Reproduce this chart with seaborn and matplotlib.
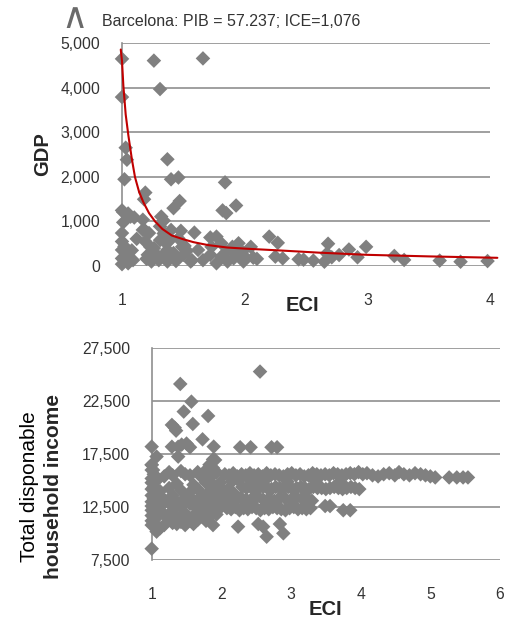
import matplotlib
matplotlib.use("Agg")
import matplotlib.pyplot as plt
import seaborn as sns
import pandas as pd

# ---------------- Top chart: GDP vs ECI ----------------
gdp_eci = [1.00, 1.26, 1.66, 1.31, 1.00, 1.03, 1.04, 1.37, 1.02, 1.40,
           1.46, 1.84, 1.19, 1.18, 1.47, 1.42, 1.93, 1.82, 1.85, 1.00,
           1.01, 1.07, 1.10, 1.17, 1.34, 1.31, 1.01, 1.00, 1.19, 1.22,
           1.39, 1.48, 1.59, 1.72, 1.77, 1.51, 1.36, 1.81, 2.20, 2.27,
           2.68, 2.85, 2.99, 2.05, 1.00, 1.00, 1.00, 1.00, 1.02, 1.05,
           1.05, 1.05, 1.09, 1.06, 1.08, 1.17, 1.19, 1.23, 1.21, 1.24,
           1.32, 1.34, 1.31, 1.38, 1.37, 1.30, 1.37, 1.42, 1.40, 1.46,
           1.49, 1.50, 1.57, 1.62, 1.66, 1.72, 1.73, 1.77, 1.81, 1.86,
           1.90, 1.91, 1.95, 1.98, 1.99, 2.00, 2.07, 2.25, 2.31, 2.44,
           2.48, 2.56, 2.65, 2.67, 2.71, 2.77, 2.92, 3.22, 3.30, 3.59,
           3.76, 3.98, 1.26, 1.42, 1.56, 1.27, 1.12, 1.28, 1.44, 1.53,
           1.85, 1.94, 2.10, 1.20, 1.34]
gdp_values = [4650, 4610, 4660, 3970, 3790, 2650, 2380, 2390, 1940, 1940,
              1980, 1870, 1640, 1490, 1450, 1290, 1350, 1240, 1180, 1240,
              1200, 1100, 1080, 1030, 1010, 880, 970, 730, 780, 730,
              590, 780, 740, 630, 650, 440, 500, 500, 650, 510,
              490, 360, 420, 420, 540, 350, 160, 30, 430, 1170,
              160, 50, 120, 310, 340, 800, 540, 420, 240, 90,
              1100, 720, 570, 540, 350, 120, 90, 200, 800, 610,
              420, 240, 120, 350, 120, 240, 420, 50, 200, 90,
              420, 160, 500, 310, 90, 200, 175, 200, 160, 140,
              130, 110, 85, 270, 185, 235, 185, 215, 125, 110,
              85, 100, 390, 280, 90, 280, 600, 200, 100, 330,
              300, 250, 150, 150, 250]

# fitted trend line
trend_eci = [0.99, 1.00, 1.011, 1.03, 1.052, 1.08, 1.106, 1.14, 1.174, 1.22,
             1.27, 1.33, 1.406, 1.50, 1.583, 1.70, 1.856, 2.00, 2.29, 2.60,
             3.00, 3.50, 4.06]
trend_gdp = [4860, 4600, 4050, 3400, 2925, 2400, 1988, 1650, 1425, 1180,
             990, 820, 675, 590, 525, 460, 405, 380, 338, 290,
             240, 205, 173]

gdp_ticks = [0, 1000, 2000, 3000, 4000, 5000]
gdp_tick_labels = ["0", "1,000", "2,000", "3,000", "4,000", "5,000"]
eci_ticks_top = [1, 2, 3, 4]

# ---------------- Bottom chart: income vs ECI ----------------
inc_single_eci = [2.555, 1.41, 1.57, 1.46, 1.81, 1.59, 1.29, 1.33, 1.35, 1.73,
                  1.00, 1.29, 1.38, 1.43, 1.50, 1.55, 1.89, 2.27, 2.42, 2.72,
                  2.80, 1.07, 1.38, 1.91, 1.00, 1.02, 2.24, 2.53, 2.60, 2.65,
                  2.84, 2.89, 1.00, 1.07, 2.15, 2.25, 2.45, 2.62, 2.95, 3.35,
                  3.70, 2.10, 2.18]
inc_single = [25300, 24130, 22460, 21520, 21110, 20350, 20260, 20000, 19720, 18900,
              18210, 18200, 18200, 18400, 18500, 18150, 18210, 18150, 18150, 18150,
              18150, 17270, 17270, 16950, 16480, 16000, 10650, 10900, 10650, 9700,
              10900, 10020, 8570, 10180, 14900, 15000, 14900, 15000, 14900, 14950,
              14900, 14200, 13800]

band_a_eci = [2.05, 2.11, 2.17, 2.23, 2.29, 2.35, 2.41, 2.47, 2.53, 2.59,
              2.65, 2.71, 2.77, 2.83, 2.89, 2.95, 3.01, 3.07, 3.13, 3.19,
              3.25, 3.31, 3.37, 3.43, 3.49, 3.55, 3.61, 3.67, 3.73, 3.79,
              3.85, 3.91, 3.97, 4.03, 4.09, 4.17, 4.25, 4.33, 4.41, 4.49,
              4.55, 4.62, 4.70, 4.78, 4.86, 4.93, 5.00, 5.07, 5.27, 5.38,
              5.47, 5.54]
band_a_inc = [15600, 15500, 15700, 15400, 15600, 15500, 15700, 15500, 15600, 15400,
              15700, 15500, 15600, 15500, 15400, 15600, 15700, 15500, 15600, 15400,
              15500, 15700, 15600, 15500, 15600, 15500, 15700, 15600, 15500, 15600,
              15700, 15600, 15800, 15600, 15700, 15500, 15400, 15600, 15700, 15500,
              15800, 15600, 15500, 15700, 15600, 15500, 15400, 15300, 15300, 15300,
              15300, 15300]

band_b_eci = [2.30, 2.36, 2.42, 2.48, 2.54, 2.60, 2.66, 2.72, 2.78, 2.84,
              2.90, 2.96, 3.02, 3.08, 3.14, 3.20, 3.26, 3.32, 3.38, 3.44,
              3.50, 3.56, 3.62, 3.68, 3.74, 3.80, 3.86, 3.92, 3.98]
band_b_inc = [14400, 14300, 14400, 14200, 14300, 14400, 14300, 14200, 14400, 14300,
              14300, 14400, 14200, 14300, 14400, 14300, 14200, 14400, 14300, 14300,
              14200, 14300, 14400, 14300, 14200, 14300, 14400, 14300, 14200]

band_c_eci = [2.08, 2.14, 2.20, 2.26, 2.32, 2.38, 2.44, 2.50, 2.56, 2.62,
              2.68, 2.74, 2.80, 2.86, 2.92, 2.98, 3.04, 3.10, 3.16, 3.22,
              3.28, 3.49, 3.56, 3.75, 3.85, 3.22]
band_c_inc = [12400, 12300, 12500, 12200, 12400, 12300, 12500, 12400, 12200, 12400,
              12300, 12500, 12400, 12300, 12200, 12400, 12500, 12300, 12400, 12300,
              12400, 12600, 12600, 12200, 12200, 13170]

band_d_eci = [2.12, 2.20, 2.28, 2.36, 2.44, 2.52, 2.60, 2.68, 2.76, 2.84,
              2.92, 3.00, 3.08, 3.16, 3.24, 3.30]
band_d_inc = [13300, 13100, 13400, 13200, 13300, 13500, 13200, 13300, 13100, 13400,
              13300, 13200, 13400, 13300, 13200, 13100]

left_eci = [1.00, 1.00, 1.00, 1.00, 1.00, 1.00, 1.00, 1.00, 1.00, 1.00, 1.00, 1.00,
            1.03, 1.03, 1.03, 1.03, 1.03,
            1.07, 1.07, 1.07, 1.07,
            1.12, 1.12, 1.12,
            1.18, 1.18, 1.18, 1.18,
            1.25, 1.25, 1.25, 1.25,
            1.30, 1.30, 1.30, 1.30,
            1.36, 1.36, 1.36, 1.36,
            1.42, 1.42, 1.42, 1.42,
            1.48, 1.48, 1.48, 1.48,
            1.55, 1.55, 1.55, 1.55,
            1.60, 1.60, 1.60, 1.60,
            1.66, 1.66, 1.66, 1.66,
            1.72, 1.72, 1.72, 1.72,
            1.78, 1.78, 1.78, 1.78, 1.78,
            1.83, 1.83, 1.83, 1.83, 1.83,
            1.88, 1.88, 1.88, 1.88, 1.88, 1.88,
            1.93, 1.93, 1.93, 1.93,
            1.98, 1.98, 1.98,
            2.05, 2.05, 2.05]
left_inc = [16500, 16000, 15200, 14800, 14200, 13600, 13000, 12600, 12200, 11700, 11200, 10800,
            15600, 14400, 13300, 12000, 11000,
            15000, 13800, 12800, 11500,
            14000, 12500, 10500,
            15400, 13200, 11800, 10800,
            15800, 14300, 12900, 11300,
            15500, 13600, 12200, 11000,
            14700, 13000, 11600, 10900,
            15900, 14100, 12500, 11100,
            15600, 13400, 11900, 10800,
            15500, 13900, 12800, 11200,
            14600, 13100, 11700, 10900,
            15800, 14200, 12300, 11300,
            15300, 13600, 12800, 11600,
            16000, 14800, 13200, 12000, 11200,
            16500, 15200, 14000, 12600, 11600,
            17000, 16200, 14600, 13400, 12000, 10800,
            15800, 14300, 13000, 11800,
            14800, 13500, 12400,
            14000, 13200, 12800]

inc_ticks = [7500, 12500, 17500, 22500, 27500]
inc_tick_labels = ["7,500", "12,500", "17,500", "22,500", "27,500"]
eci_ticks_bottom = [1, 2, 3, 4, 5, 6]

# ---------------- Build frames ----------------
top_df = pd.DataFrame({"ECI": gdp_eci, "GDP": gdp_values})
trend_df = pd.DataFrame({"ECI": trend_eci, "GDP": trend_gdp})
bot_df = pd.DataFrame({
    "ECI": inc_single_eci + band_a_eci + band_b_eci + band_c_eci + band_d_eci + left_eci,
    "Income": inc_single + band_a_inc + band_b_inc + band_c_inc + band_d_inc + left_inc,
})

# ---------------- Style ----------------
sns.set_style("white")
plt.rcParams["font.family"] = ["Liberation Sans", "DejaVu Sans"]

grid_c = "#8f8f8f"
marker_c = "#808080"
text_c = "#333333"

fig = plt.figure(figsize=(5.12, 6.19), dpi=100)
W, H = 512.0, 619.0
ax1 = fig.add_axes([122 / W, 1 - 265.5 / H, 368 / W, 222.2 / H])
ax2 = fig.add_axes([151.7 / W, 1 - 560 / H, 348.3 / W, 211.7 / H])

# top scatter
sns.scatterplot(data=top_df, x="ECI", y="GDP", marker="D", s=55, color=marker_c,
                edgecolor="none", linewidth=0, ax=ax1, clip_on=False, zorder=3)
sns.lineplot(data=trend_df, x="ECI", y="GDP", color="#c00000", lw=1.5, ax=ax1,
             sort=False, estimator=None, zorder=4, clip_on=False)

# bottom scatter
sns.scatterplot(data=bot_df, x="ECI", y="Income", marker="D", s=55, color=marker_c,
                edgecolor="none", linewidth=0, ax=ax2, clip_on=False, zorder=3)

for ax in (ax1, ax2):
    ax.set_axisbelow(True)
    ax.grid(axis="y", color=grid_c, lw=1.2)
    ax.grid(axis="x", visible=False)
    for side in ("top", "right", "bottom"):
        ax.spines[side].set_visible(False)
    ax.spines["left"].set_color(grid_c)
    ax.spines["left"].set_linewidth(1.2)
    ax.tick_params(axis="both", length=0, labelsize=11.3, colors=text_c)
    ax.tick_params(axis="x", pad=19.5)
    ax.tick_params(axis="y", pad=15.7)

ax1.set_xlim(1, 4)
ax1.set_ylim(0, 5000)
ax1.set_xticks(eci_ticks_top)
ax1.set_xticklabels([str(t) for t in eci_ticks_top])
ax1.set_yticks(gdp_ticks)
ax1.set_yticklabels(gdp_tick_labels)
ax1.set_xlabel("ECI", fontsize=14.5, fontweight="bold", va="center")
ax1.xaxis.set_label_coords(0.49, -0.182)
ax1.set_ylabel("GDP", fontsize=14.5, fontweight="bold", va="center")
ax1.yaxis.set_label_coords(-0.217, 0.5)

ax2.set_xlim(1, 6)
ax2.set_ylim(7500, 27500)
ax2.set_xticks(eci_ticks_bottom)
ax2.set_xticklabels([str(t) for t in eci_ticks_bottom])
ax2.set_yticks(inc_ticks)
ax2.set_yticklabels(inc_tick_labels)
ax2.set_xlabel("ECI", fontsize=14.5, fontweight="bold", va="center")
ax2.xaxis.set_label_coords(0.4976, -0.236)
ax2.set_ylabel("household income", fontsize=15, fontweight="bold", va="center")
ax2.yaxis.set_label_coords(-0.283, 0.347)
ax2.text(-0.352, 0.347, "Total disponable", rotation=90, transform=ax2.transAxes,
         ha="center", va="center", fontsize=15, color="black")

# header
fig.text(102 / W, 1 - 21 / H, "Barcelona: PIB = 57.237; ICE=1,076", fontsize=11.5,
         ha="left", va="center", color=text_c)
fig.text(75 / W, 1 - 18 / H, "\u2227", fontsize=26, ha="center",
         va="center", color="#6a6a6a", family=["DejaVu Sans"])

fig.savefig("out.png", dpi=100)
